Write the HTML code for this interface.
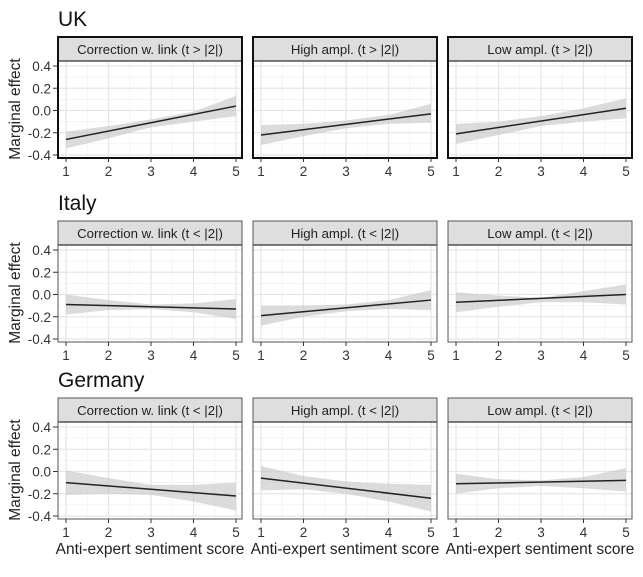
<!DOCTYPE html>
<html><head><meta charset="utf-8"><style>
html,body{margin:0;padding:0;background:#fff;}
svg{display:block;font-family:"Liberation Sans",Arial,sans-serif;}
</style></head><body>
<svg id="chart" width="643" height="577" viewBox="0 0 643 577" xmlns="http://www.w3.org/2000/svg"></svg>
<script>
const countries = ["UK", "Italy", "Germany"];
const treatments = ["Correction w. link", "High ampl.", "Low ampl."];
const signif = [">", "<", "<"];
const xTicks = [1, 2, 3, 4, 5];
const yTicks = [-0.4, -0.2, 0.0, 0.2, 0.4];
const yTickLabels = ["-0.4", "-0.2", "0.0", "0.2", "0.4"];
// line value at x=1 and x=5
const lineStart = [[-0.26, -0.22, -0.21], [-0.09, -0.19, -0.07], [-0.10, -0.06, -0.11]];
const lineEnd = [[0.04, -0.03, 0.02], [-0.13, -0.05, 0.00], [-0.22, -0.24, -0.08]];
// ribbon lower/upper at x=1..5
const ribLower = [
 [[-0.34,-0.25,-0.15,-0.10,-0.05],[-0.31,-0.23,-0.16,-0.12,-0.11],[-0.30,-0.22,-0.14,-0.10,-0.07]],
 [[-0.18,-0.14,-0.13,-0.16,-0.22],[-0.28,-0.20,-0.15,-0.13,-0.14],[-0.16,-0.11,-0.07,-0.07,-0.09]],
 [[-0.21,-0.20,-0.21,-0.27,-0.35],[-0.17,-0.16,-0.20,-0.27,-0.36],[-0.20,-0.15,-0.13,-0.15,-0.18]]
];
const ribUpper = [
 [[-0.19,-0.14,-0.08,-0.01,0.13],[-0.13,-0.12,-0.09,-0.04,0.06],[-0.12,-0.10,-0.05,0.02,0.11]],
 [[0.00,-0.05,-0.09,-0.08,-0.04],[-0.10,-0.10,-0.09,-0.05,0.04],[0.02,-0.01,-0.03,0.03,0.09]],
 [[0.01,-0.06,-0.12,-0.12,-0.10],[0.05,-0.04,-0.09,-0.11,-0.12],[-0.02,-0.07,-0.08,-0.05,0.03]]
];

const NS = "http://www.w3.org/2000/svg";
const svg = document.getElementById("chart");
function mk(tag, attrs, parent) {
  const e = document.createElementNS(NS, tag);
  for (const k in attrs) e.setAttribute(k, attrs[k]);
  (parent || svg).appendChild(e);
  return e;
}
const panelLeft = [58, 253, 448];
const panelW = 184;
const rowStrip = [37, 221, 398];
const stripH = 24;
const plotH = 97;

for (let r = 0; r < 3; r++) {
  const row = mk("g", {});
  
  
  const title = mk("text", {x: 58, y: rowStrip[r] - 11, "font-size": 21, fill: "#111"}, row);
  title.textContent = countries[r];
  
  
  const plotTop = rowStrip[r] + stripH;
  const yScale = v => plotTop + 5 + (0.4 - v) / 0.8 * 89;
  const bw = r === 0 ? 2 : 1;
  const bc = r === 0 ? "#111" : "#555";
  const yt = mk("text", {x: 0, y: 0, "font-size": 15.5, fill: "#222", "text-anchor": "middle",
    transform: `translate(20,${plotTop + 48}) rotate(-90)`}, row);
  yt.textContent = "Marginal effect";
  
  
  yTicks.forEach((v, i) => {
    const t = mk("text", {x: 51, y: yScale(v) + 5, "font-size": 13.5, fill: "#333", "text-anchor": "end"}, row);
    t.textContent = yTickLabels[i];
    
    
    mk("line", {x1: 53, x2: 58, y1: yScale(v), y2: yScale(v), stroke: "#333", "stroke-width": 1}, row);
  });
  for (let c = 0; c < 3; c++) {
    const L = panelLeft[c];
    const xScale = v => L + 8 + (v - 1) * 42.5;
    const g = mk("g", {}, row);
    
    
    mk("rect", {x: L, y: plotTop, width: panelW, height: plotH, fill: "#fff"}, g);
    for (let v = 1.5; v < 5; v += 1) mk("line", {x1: xScale(v), x2: xScale(v), y1: plotTop, y2: plotTop + plotH, stroke: "#f2f2f2", "stroke-width": 0.8}, g);
    for (let v = -0.3; v < 0.4; v += 0.2) mk("line", {x1: L, x2: L + panelW, y1: yScale(v), y2: yScale(v), stroke: "#f2f2f2", "stroke-width": 0.8}, g);
    xTicks.forEach(v => mk("line", {x1: xScale(v), x2: xScale(v), y1: plotTop, y2: plotTop + plotH, stroke: "#e6e6e6", "stroke-width": 1.3}, g));
    yTicks.forEach(v => mk("line", {x1: L, x2: L + panelW, y1: yScale(v), y2: yScale(v), stroke: "#e6e6e6", "stroke-width": 1.3}, g));
    let pts = xTicks.map((x, i) => xScale(x) + "," + yScale(ribUpper[r][c][i]));
    pts = pts.concat(xTicks.slice().reverse().map((x, j) => xScale(x) + "," + yScale(ribLower[r][c][4 - j])));
    const rib = mk("polygon", {points: pts.join(" "), fill: "#c8c8c8", "fill-opacity": 0.65}, g);
    
    
    const ln = mk("line", {x1: xScale(1), y1: yScale(lineStart[r][c]), x2: xScale(5), y2: yScale(lineEnd[r][c]), stroke: "#222", "stroke-width": 1.5}, g);
    
    
    const st = mk("rect", {x: L, y: rowStrip[r], width: panelW, height: stripH, fill: "#dedede"}, g);
    
    
    mk("line", {x1: L, x2: L + panelW, y1: plotTop, y2: plotTop, stroke: "#333", "stroke-width": 1.3}, g);
    const stt = mk("text", {x: L + panelW / 2, y: rowStrip[r] + 17, "font-size": 13.2, fill: "#222", "text-anchor": "middle"}, g);
    stt.textContent = treatments[c] + " (t " + signif[r] + " |2|)";
    
    
    mk("rect", {x: L, y: rowStrip[r], width: panelW, height: stripH + plotH, fill: "none", stroke: bc, "stroke-width": bw}, g);
    xTicks.forEach(v => {
      mk("line", {x1: xScale(v), x2: xScale(v), y1: plotTop + plotH, y2: plotTop + plotH + 4, stroke: "#333", "stroke-width": 1}, g);
      const t = mk("text", {x: xScale(v), y: plotTop + plotH + 18, "font-size": 13.5, fill: "#333", "text-anchor": "middle"}, g);
      t.textContent = v;
      
      
    });
    if (r === 2) {
      const xt = mk("text", {x: L + panelW / 2, y: 554, "font-size": 15.5, fill: "#222", "text-anchor": "middle"}, g);
      xt.textContent = "Anti-expert sentiment score";
      
      
    }
  }
}
</script>
</body></html>
